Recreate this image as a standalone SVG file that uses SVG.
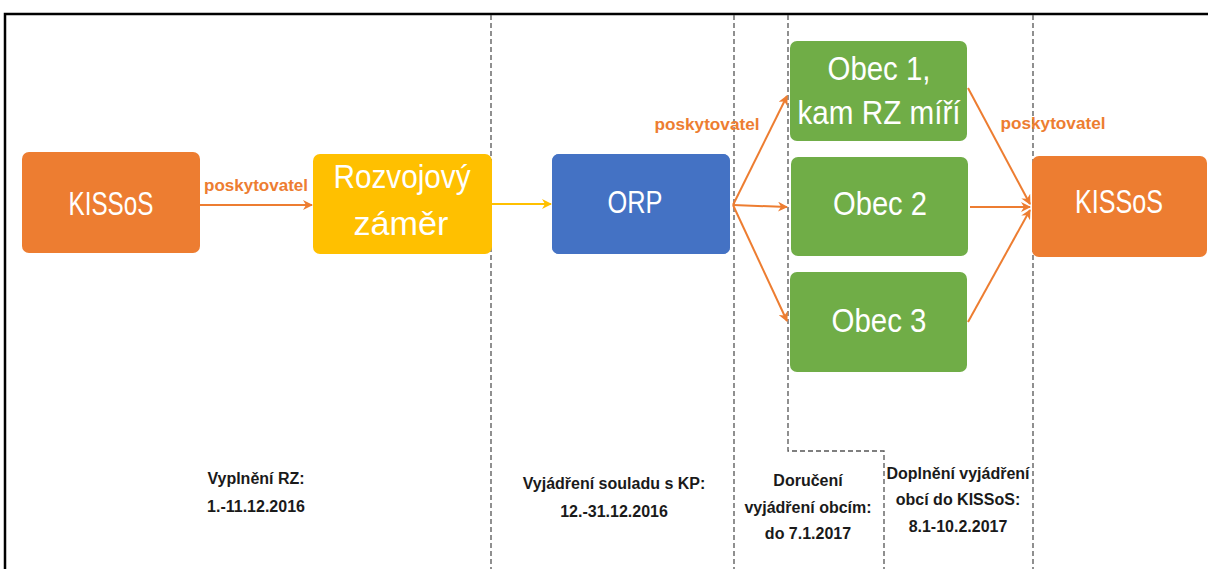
<svg xmlns="http://www.w3.org/2000/svg" width="1208" height="569" viewBox="0 0 1208 569">
<style>
.box{stroke:none}
.lbl{font-family:"Liberation Sans",Arial,sans-serif;fill:#fff;text-anchor:middle}
.pk{font-family:"Liberation Sans",Arial,sans-serif;font-weight:bold;font-size:16px;fill:#ED7D31;text-anchor:middle}
.note{font-family:"Liberation Sans",Arial,sans-serif;font-weight:bold;font-size:16px;fill:#1a1a1a;text-anchor:middle}
.dash{fill:none;stroke:#555;stroke-width:1.3;stroke-dasharray:5,3}
.or{stroke:#ED7D31;stroke-width:2;fill:none;marker-end:url(#ao)}
.ye{stroke:#FFC000;stroke-width:2;fill:none;marker-end:url(#ay)}
</style>
<defs>
<marker id="ao" markerWidth="10" markerHeight="10" refX="9" refY="5" orient="auto" markerUnits="userSpaceOnUse"><path d="M0,0 L10,5 L0,10 L3,5 Z" fill="#ED7D31"/></marker>
<marker id="ay" markerWidth="10" markerHeight="10" refX="9" refY="5" orient="auto" markerUnits="userSpaceOnUse"><path d="M0,0 L10,5 L0,10 L3,5 Z" fill="#FFC000"/></marker>
<filter id="glow" x="-20%" y="-30%" width="140%" height="160%"><feGaussianBlur in="SourceAlpha" stdDeviation="4"/><feOffset dy="0"/><feComponentTransfer><feFuncA type="linear" slope="0.35"/></feComponentTransfer><feFlood flood-color="#4472C4"/><feComposite operator="in" in2="SourceAlpha"/></filter>
</defs>
<rect width="1208" height="569" fill="#fff"/>
<path d="M5,569 V14 H1208" fill="none" stroke="#000" stroke-width="2.5"/>
<g id="separators">
<path class="dash" d="M491,15 V569"/>
<path class="dash" d="M734,15 V569"/>
<path class="dash" d="M788,15 V451 H884 V569"/>
<path class="dash" d="M1033,15 V569"/>
</g>
<g id="connectors">
<path class="or" d="M200,205 H312"/>
<path class="ye" d="M492,204 H551"/>
<path class="or" d="M733,205 L787,96"/>
<path class="or" d="M733,205 L787,207"/>
<path class="or" d="M733,205 L787,321"/>
<path class="or" d="M968,88 L1030,204"/>
<path class="or" d="M970,207 L1030,207"/>
<path class="or" d="M968,322 L1030,210"/>
<text class="pk" x="256" y="191" textLength="104" lengthAdjust="spacingAndGlyphs">poskytovatel</text>
<text class="pk" x="707" y="130" textLength="105" lengthAdjust="spacingAndGlyphs">poskytovatel</text>
<text class="pk" x="1053" y="129" textLength="105" lengthAdjust="spacingAndGlyphs">poskytovatel</text>
</g>
<g id="kissos1">
<rect class="box" x="22" y="152" width="178" height="101" rx="7" fill="#ED7D31"/>
<text class="lbl" x="111" y="215" font-size="33" textLength="85" lengthAdjust="spacingAndGlyphs">KISSoS</text>
</g>
<g id="rozvojovy">
<rect class="box" x="313" y="154" width="179" height="100" rx="7" fill="#FFC000"/>
<text class="lbl" x="402" y="188" font-size="33" textLength="137" lengthAdjust="spacingAndGlyphs">Rozvojový</text>
<text class="lbl" x="401" y="235" font-size="33" textLength="95" lengthAdjust="spacingAndGlyphs">záměr</text>
</g>
<g id="orp">
<rect x="552" y="154" width="178" height="100" rx="7" fill="#4472C4" filter="url(#glow)"/>
<rect class="box" x="552" y="154" width="178" height="100" rx="7" fill="#4472C4"/>
<text class="lbl" x="635" y="213" font-size="32" textLength="55" lengthAdjust="spacingAndGlyphs">ORP</text>
</g>
<g id="obec1">
<rect class="box" x="790" y="41" width="177" height="100" rx="7" fill="#70AD47"/>
<text class="lbl" x="879" y="80" font-size="33" textLength="103" lengthAdjust="spacingAndGlyphs">Obec 1,</text>
<text class="lbl" x="879" y="124" font-size="33" textLength="163" lengthAdjust="spacingAndGlyphs">kam RZ míří</text>
</g>
<g id="obec2">
<rect class="box" x="791" y="157" width="177" height="99" rx="7" fill="#70AD47"/>
<text class="lbl" x="880" y="215" font-size="33" textLength="94" lengthAdjust="spacingAndGlyphs">Obec 2</text>
</g>
<g id="obec3">
<rect class="box" x="790" y="272" width="177" height="100" rx="7" fill="#70AD47"/>
<text class="lbl" x="879" y="332" font-size="33" textLength="95" lengthAdjust="spacingAndGlyphs">Obec 3</text>
</g>
<g id="kissos2">
<rect class="box" x="1032" y="156" width="175" height="101" rx="7" fill="#ED7D31"/>
<text class="lbl" x="1119" y="213" font-size="33" textLength="88" lengthAdjust="spacingAndGlyphs">KISSoS</text>
</g>
<g id="notes">
<text class="note" x="256" y="484">Vyplnění RZ:</text>
<text class="note" x="256" y="512">1.-11.12.2016</text>
<text class="note" x="614" y="489">Vyjádření souladu s KP:</text>
<text class="note" x="614" y="517">12.-31.12.2016</text>
<text class="note" x="808" y="486">Doručení</text>
<text class="note" x="808" y="513">vyjádření obcím:</text>
<text class="note" x="808" y="539">do 7.1.2017</text>
<text class="note" x="958" y="479">Doplnění vyjádření</text>
<text class="note" x="958" y="505">obcí do KISSoS:</text>
<text class="note" x="958" y="532">8.1-10.2.2017</text>
</g>
</svg>
